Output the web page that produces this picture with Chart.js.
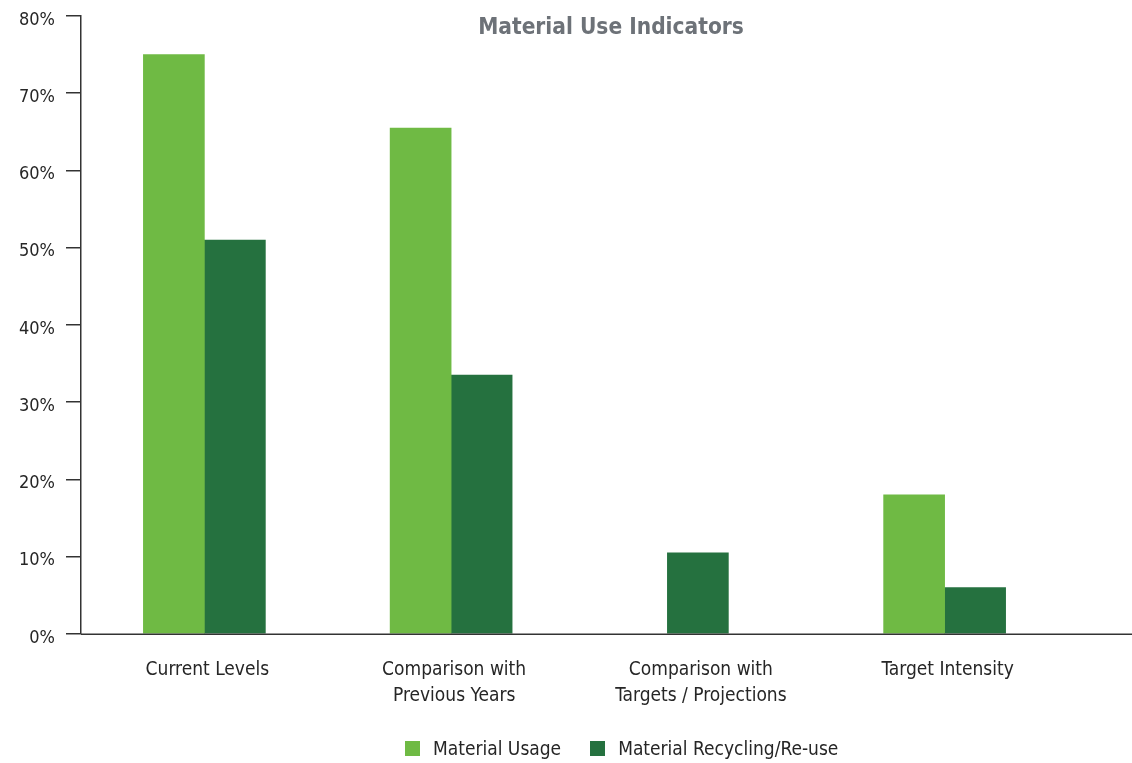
<!DOCTYPE html>
<html>
<head>
<meta charset="utf-8">
<title>Material Use Indicators</title>
<script src="https://cdn.jsdelivr.net/npm/chart.js@4.4.1/dist/chart.umd.min.js"></script>
<style>
  html, body { margin: 0; padding: 0; background: #fff; }
  #wrap { position: relative; width: 1132px; height: 763px; overflow: hidden; }
  #chart { position: absolute; left: 0; top: 0; }
  #title {
    position: absolute; left: 411px; width: 400px; top: 13px;
    text-align: center; color: #6d7278;
    font: bold 22.5px "DejaVu Sans Condensed", "DejaVu Sans", sans-serif;
    font-stretch: condensed;
  }
  #legend {
    position: absolute; left: 405px; top: 737px; display: flex; align-items: center;
    font: 19px "DejaVu Sans Condensed", "DejaVu Sans", sans-serif; color: #262626;
    font-stretch: condensed;
  }
  #legend .item { display: flex; align-items: center; margin-right: 29px; }
  #legend .box { width: 15px; height: 15px; margin-right: 13px; }
</style>
</head>
<body>
<div id="wrap">
  <canvas id="chart" width="1132" height="763"></canvas>
  <div id="title">Material Use Indicators</div>
  <div id="legend"></div>
</div>
<script>
// categories and series (percent)
const categories = [
    'Current Levels',
    ['Comparison with', 'Previous Years'],
    ['Comparison with', 'Targets / Projections'],
    'Target Intensity'
];
const materialUsage = [75, 65.5, null, 18];
const materialRecycling = [51, 33.5, 10.5, 6];
const yTicks = [0, 10, 20, 30, 40, 50, 60, 70, 80];

const seriesNames = ['Material Usage', 'Material Recycling/Re-use'];
const seriesColors = ['#6fba44', '#25713f'];

const axisColor = '#333333';
const textColor = '#262626';
const fontFamily = '"DejaVu Sans Condensed", "DejaVu Sans", sans-serif';

// legend built as html under the chart
const legendEl = document.getElementById('legend');
seriesNames.forEach((name, i) => {
    const item = document.createElement('div');
    item.className = 'item';
    item.innerHTML = '<span class="box" style="background:' + seriesColors[i] + '"></span><span>' + name + '</span>';
    legendEl.appendChild(item);
});

// zero line drawn by hand so it runs past the last category to the canvas edge
const baselinePlugin = {
    id: 'baselineExtend',
    afterDraw(chart) {
        const { ctx, chartArea } = chart;
        const y = Math.round(chartArea.bottom) + 0.25;
        ctx.save();
        ctx.strokeStyle = axisColor;
        ctx.lineWidth = 1.5;
        ctx.beginPath();
        ctx.moveTo(chartArea.left, y);
        ctx.lineTo(chart.width, y);
        ctx.stroke();
        ctx.restore();
    }
};

const ctx = document.getElementById('chart').getContext('2d');
new Chart(ctx, {
    type: 'bar',
    data: {
        labels: categories,
        datasets: [
            { label: seriesNames[0], data: materialUsage, backgroundColor: seriesColors[0] },
            { label: seriesNames[1], data: materialRecycling, backgroundColor: seriesColors[1] }
        ]
    },
    options: {
        responsive: false,
        animation: false,
        datasets: { bar: { barThickness: 61, skipNull: true, borderWidth: 0 } },
        layout: { padding: { top: 16, right: 64, bottom: 31, left: 0 } },
        plugins: {
            legend: { display: false },
            title: { display: false },
            tooltip: { enabled: false }
        },
        scales: {
            x: {
                grid: { display: false, drawTicks: false },
                border: { display: false },
                ticks: {
                    color: textColor, padding: 23, labelOffset: 3,
                    maxRotation: 0, autoSkip: false,
                    font: { family: fontFamily, size: 19, lineHeight: 1.37 }
                }
            },
            y: {
                min: 0, max: 80,
                afterBuildTicks(scale) { scale.ticks = yTicks.map(v => ({ value: v })); },
                afterFit(scale) { scale.width = 81; },
                grid: { drawOnChartArea: false, drawTicks: true, tickLength: 15, color: axisColor, lineWidth: 1.5 },
                border: { display: true, color: axisColor, width: 1.5 },
                ticks: {
                    color: textColor, padding: 11, labelOffset: 4,
                    font: { family: fontFamily, size: 18, lineHeight: 0.55 },
                    callback: v => v + '%'
                }
            }
        }
    },
    plugins: [baselinePlugin]
});
</script>
</body>
</html>
